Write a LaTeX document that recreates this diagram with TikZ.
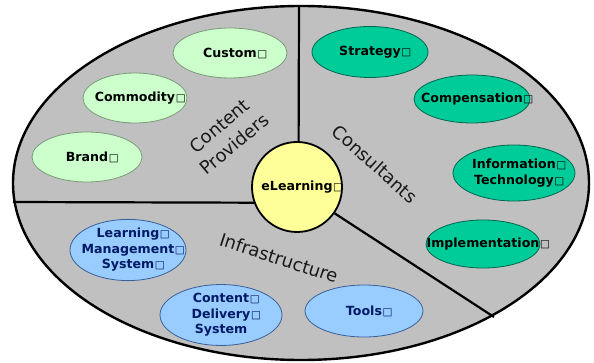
\documentclass[tikz,border=0pt]{standalone}
\usepackage{fontspec}
\newfontfamily\nfont{DejaVu Sans}
\usetikzlibrary{shapes.geometric}
\definecolor{bggray}{HTML}{C0C0C0}
\definecolor{lgreen}{HTML}{CCFFCC}
\definecolor{lgreenb}{HTML}{7A9A7A}
\definecolor{teal1}{HTML}{00CC99}
\definecolor{teal1b}{HTML}{006650}
\definecolor{lblue}{HTML}{99CCFF}
\definecolor{lblueb}{HTML}{3A5F9A}
\definecolor{navy1}{HTML}{001a66}
\definecolor{yel}{HTML}{FFFF99}
\newcommand\zb[1]{\makebox[0pt]{#1}}
\newcommand\bx{\rlap{\kern0.6pt{\mdseries\fontsize{10.5}{10.5}\selectfont □}}}
\begin{document}
\begin{tikzpicture}[x=1pt,y=-1pt,
  oval/.style={ellipse, inner sep=0pt, line width=0.8pt, align=center,
    font=\nfont\bfseries\fontsize{12.6}{15.5}\selectfont},
  gnode/.style={oval, draw=lgreenb, fill=lgreen, text=black},
  tnode/.style={oval, draw=teal1b, fill=teal1, text=black},
  bnode/.style={oval, draw=lblueb, fill=lblue, text=navy1},
  sector/.style={font=\nfont\fontsize{18}{23.5}\selectfont, text=black!90, align=center, inner sep=0pt},
  divider/.style={draw=black, line width=2.2pt}]
\useasboundingbox (0,0) rectangle (594,363);
\node[ellipse, draw=black, line width=2.4pt, fill=bggray, minimum width=576pt, minimum height=354pt, inner sep=0pt] (outer) at (301,183) {};
\node[circle, draw=black, line width=1.8pt, fill=yel, minimum size=90pt, inner sep=0pt,
  font=\nfont\bfseries\fontsize{12.6}{15}\selectfont] (elearn) at (297,187) {\zb{eLearning\bx}};
\coordinate (ptop) at (299,7);
\coordinate (pleft) at (13,202);
\coordinate (pbr) at (494,317);
\draw[divider] (ptop) -- (elearn.88);
\draw[divider] (pleft) -- (elearn.200);
\draw[divider] (pbr) -- (elearn.-35);
% content providers
\node[gnode, minimum width=114pt, minimum height=50pt] (custom) at (230,53) {\zb{Custom\bx}};
\node[gnode, minimum width=104pt, minimum height=50pt] (commodity) at (135,98) {\zb{Commodity\bx}};
\node[gnode, minimum width=110pt, minimum height=50pt] (brand) at (87,157) {\zb{Brand\bx}};
% consultants
\node[tnode, minimum width=116pt, minimum height=51pt] (strategy) at (370,52) {\zb{Strategy\bx}};
\node[tnode, minimum width=116pt, minimum height=48pt] (comp) at (472,99) {\zb{Compensation\bx}};
\node[tnode, minimum width=122pt, minimum height=56pt] (it) at (514,173) {\zb{Information\bx}\\\zb{Technology\bx}};
\node[tnode, minimum width=114pt, minimum height=48pt] (impl) at (483,244) {\zb{Implementation\bx}};
% infrastructure
\node[bnode, minimum width=116pt, minimum height=60pt] (lms) at (128,250) {\zb{Learning\bx}\\\zb{Management\bx}\\\zb{System\bx}};
\node[bnode, minimum width=122pt, minimum height=58pt] (cds) at (221,315) {\zb{Content\bx}\\\zb{Delivery\bx}\\\zb{System}};
\node[bnode, minimum width=118pt, minimum height=52pt] (tools) at (364,311) {\zb{Tools\bx}};
% sector labels
\node[sector, rotate=40] (lcp) at (227,135) {Content\\Providers};
\node[sector, rotate=-42] (lcons) at (375,164) {Consultants};
\node[sector, rotate=-18] (linfra) at (279,258) {Infrastructure};
\end{tikzpicture}
\end{document}
